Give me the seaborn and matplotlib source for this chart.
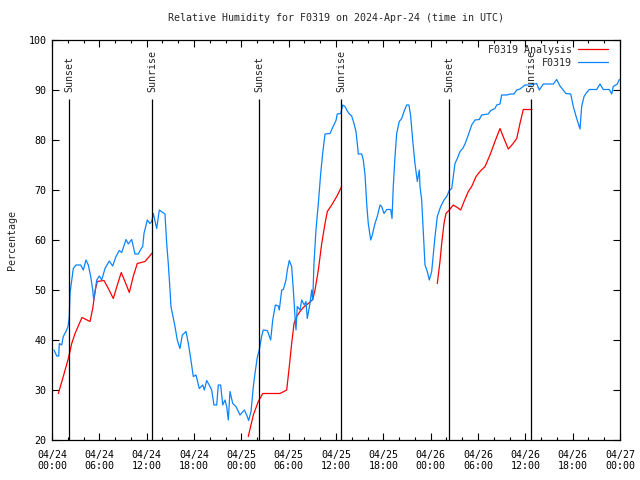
import pandas as pd
import matplotlib
matplotlib.use("Agg")
import matplotlib.pyplot as plt
import matplotlib.dates as mdates
import seaborn as sns

# hours after 2024-04-24 00:00 UTC, relative humidity (%)
obs_hours = [0.25, 0.60, 0.85, 0.93, 1.23, 1.43, 1.77, 2.03, 2.19, 2.28, 2.50, 2.70, 3.04, 3.64,
             3.97, 4.31, 4.60, 4.91, 5.16, 5.29, 5.45, 5.67, 6.00, 6.30, 6.72, 7.26, 7.69, 8.11,
             8.53, 8.84, 9.38, 9.67, 10.10, 10.52, 10.94, 11.24, 11.50, 11.66, 12.08, 12.42, 12.64,
             12.84, 13.27, 13.60, 14.32, 14.54, 14.74, 14.96, 15.08, 15.30, 15.59, 15.88, 16.22,
             16.52, 16.99, 17.28, 17.58, 17.91, 18.25, 18.67, 19.10, 19.31, 19.61, 20.03, 20.24,
             20.53, 20.88, 21.08, 21.38, 21.64, 21.93, 22.14, 22.35, 22.56, 22.91, 23.32, 23.83,
             24.38, 24.68, 24.93, 25.23, 25.52, 25.73, 26.02, 26.27, 26.57, 26.78, 27.29, 27.72,
             27.98, 28.31, 28.69, 28.81, 29.12, 29.32, 29.66, 29.83, 30.08, 30.38, 30.59, 30.80,
             30.93, 31.09, 31.44, 31.65, 31.98, 32.20, 32.36, 32.70, 32.92, 33.05, 33.21, 33.46,
             33.76, 34.06, 34.31, 34.61, 35.24, 35.66, 36.00, 36.16, 36.60, 36.85, 37.14, 37.36,
             37.69, 37.99, 38.28, 38.53, 38.70, 38.83, 39.26, 39.46, 39.68, 39.89, 40.09, 40.40,
             40.60, 40.94, 41.23, 41.58, 41.79, 42.08, 42.43, 42.93, 43.10, 43.26, 43.48, 43.69,
             44.02, 44.33, 44.62, 44.96, 45.25, 45.47, 45.72, 46.01, 46.31, 46.56, 46.65, 46.86,
             47.07, 47.28, 47.57, 47.83, 48.13, 48.55, 48.84, 49.27, 49.69, 50.03, 50.36, 50.67,
             50.87, 51.08, 51.38, 51.72, 52.06, 52.35, 52.77, 53.20, 53.62, 54.16, 54.47, 55.30,
             55.61, 56.15, 56.37, 56.79, 57.00, 57.64, 58.14, 58.56, 58.91, 59.32, 59.96, 60.59,
             61.44, 61.77, 62.28, 63.55, 63.97, 64.39, 65.15, 65.75, 66.08, 66.51, 66.93, 67.14,
             67.44, 67.78, 68.11, 69.05, 69.46, 69.88, 70.64, 70.95, 71.15, 71.66, 71.91]
obs_rh = [38.0, 36.8, 36.8, 39.3, 39.0, 40.7, 41.7, 42.7, 44.7, 49.3, 52.0, 54.3, 55.0, 55.0,
          54.0, 56.0, 55.0, 52.7, 50.0, 48.0, 49.7, 52.0, 52.8, 52.0, 54.3, 55.8, 54.8, 56.7,
          57.9, 57.5, 60.1, 59.2, 60.1, 57.2, 57.2, 58.1, 58.7, 61.3, 64.0, 63.3, 63.7,
          65.3, 62.3, 66.0, 65.2, 59.3, 55.3, 50.0, 46.7, 45.0, 42.7, 40.0, 38.3,
          41.0, 41.7, 39.3, 36.3, 32.7, 33.0, 30.3, 31.0, 30.0, 31.9, 30.7, 30.0,
          27.0, 27.0, 31.0, 31.0, 27.0, 28.0, 26.7, 24.0, 29.7, 27.3, 26.7, 25.0,
          26.0, 25.0, 23.9, 25.7, 30.7, 33.3, 36.5, 38.0, 40.7, 42.0, 41.9, 40.0,
          44.0, 47.0, 46.8, 46.0, 50.0, 50.1, 52.0, 54.0, 55.9, 54.7, 50.0, 44.7,
          42.0, 46.7, 46.0, 48.0, 47.0, 47.7, 44.3, 47.3, 50.0, 48.0, 55.3, 62.0,
          67.3, 73.3, 77.3, 81.2, 81.3, 82.8, 83.9, 85.2, 85.3, 87.0, 86.7, 86.0,
          85.2, 84.8, 83.3, 81.7, 79.3, 77.2, 77.2, 76.0, 73.0, 67.3, 63.3, 60.0,
          61.0, 63.3, 64.7, 67.0, 66.7, 65.3, 66.1, 66.1, 64.3, 70.7, 76.7, 81.3,
          83.7, 84.3, 85.7, 87.0, 87.0, 84.7, 80.0, 75.3, 71.7, 74.0, 70.7, 68.0,
          61.3, 55.0, 53.7, 52.0, 53.7, 60.7, 64.7, 66.7, 68.0, 68.7, 69.9, 70.3,
          72.7, 75.3, 76.3, 77.7, 78.3, 79.2, 81.0, 83.0, 84.0, 84.1, 85.0, 85.2,
          85.9, 86.3, 87.0, 87.2, 89.0, 89.0, 89.2, 89.2, 90.0, 90.2, 91.0, 91.0,
          91.3, 90.0, 91.2, 91.2, 92.1, 90.8, 89.3, 89.2, 86.7, 84.3, 82.2, 86.7,
          88.7, 89.5, 90.1, 90.1, 91.2, 90.1, 90.1, 89.2, 90.7, 91.2, 92.1]

# analysis comes in three separate runs
ana1_hours = [0.80, 1.43, 2.07, 2.50, 2.92, 3.80, 4.31, 4.82, 5.16, 5.49, 5.74, 6.59, 7.14, 7.77,
              8.28, 8.78, 9.25, 9.80, 10.31, 10.81, 11.79, 12.33, 12.76]
ana1_rh = [29.3, 32.7, 36.3, 39.3, 41.3, 44.5, 44.1, 43.7, 46.3, 50.0, 51.7, 51.9, 50.3, 48.3,
           51.0, 53.5, 51.7, 49.5, 52.8, 55.3, 55.7, 56.7, 57.5]
ana2_hours = [24.88, 25.52, 26.15, 26.71, 28.90, 29.75, 30.08, 30.38, 30.68, 31.02, 31.44, 31.85,
              32.49, 33.05, 33.34, 33.76, 34.19, 34.61, 34.90, 35.45, 36.09, 36.72]
ana2_rh = [20.7, 25.0, 27.7, 29.3, 29.3, 30.0, 34.7, 39.3, 43.3, 44.7, 45.7, 46.5,
           47.3, 48.1, 50.0, 54.0, 59.3, 63.3, 65.7, 67.0, 68.7, 70.7]
ana3_hours = [48.84, 49.18, 49.40, 49.69, 49.94, 50.36, 50.87, 51.38, 51.81, 52.23, 52.77, 53.20,
              53.75, 54.25, 54.89, 55.52, 56.15, 56.79, 57.29, 57.84, 58.40, 58.91, 59.32, 59.74,
              60.84]
ana3_rh = [51.3, 55.7, 59.3, 63.3, 65.3, 66.0, 67.0, 66.5, 66.0, 67.7, 69.7, 70.7,
           72.7, 73.7, 74.7, 77.0, 79.7, 82.3, 80.3, 78.2, 79.2, 80.3, 83.3, 86.1,
           86.1]

sun_hours = [2.19, 12.71, 26.28, 36.67, 50.36, 60.76]
sun_labels = ["Sunset", "Sunrise", "Sunset", "Sunrise", "Sunset", "Sunrise"]

start = pd.Timestamp("2024-04-24 00:00")

def to_time(h):
    return start + pd.to_timedelta(h, unit="h")

frames = []
for seg, (hrs, vals) in enumerate([(ana1_hours, ana1_rh), (ana2_hours, ana2_rh), (ana3_hours, ana3_rh)]):
    frames.append(pd.DataFrame({"time": to_time(hrs), "rh": vals,
                                "series": "F0319 Analysis", "seg": seg}))
frames.append(pd.DataFrame({"time": to_time(obs_hours), "rh": obs_rh,
                            "series": "F0319", "seg": 10}))
df = pd.concat(frames, ignore_index=True)

sns.set_style("ticks")
plt.rcParams["font.family"] = ["DejaVu Sans Mono"]
plt.rcParams["font.size"] = 7.2

fig = plt.figure(figsize=(6.4, 4.8), dpi=100)
ax = fig.add_axes([52 / 640, 40 / 480, 568 / 640, 400 / 480])

sns.lineplot(data=df, x="time", y="rh", hue="series", units="seg", estimator=None,
             palette={"F0319 Analysis": "#ff0000", "F0319": "#0a84ff"},
             hue_order=["F0319 Analysis", "F0319"], linewidth=0.9, ax=ax)

sun_t = to_time(sun_hours)
ax.vlines(sun_t, 20, 88.2, color="black", linewidth=0.9)
for t, lab in zip(sun_t, sun_labels):
    ax.text(t, 89.6, lab, rotation=90, ha="center", va="bottom", fontsize=7.2)

ax.set_xlim(to_time(0), to_time(72))
ax.set_ylim(20, 100)
ax.set_yticks(range(20, 101, 10))
ax.xaxis.set_major_locator(mdates.HourLocator(byhour=[0, 6, 12, 18]))
ax.xaxis.set_minor_locator(mdates.HourLocator(byhour=range(0, 24, 2)))
ax.xaxis.set_major_formatter(mdates.DateFormatter("%m/%d\n%H:%M"))

for s in ax.spines.values():
    s.set_visible(True)
    s.set_color("black")
    s.set_linewidth(0.9)
ax.tick_params(which="both", direction="in", top=True, right=True, color="black",
               width=0.8, labelsize=7.2, labelcolor="black")
ax.tick_params(which="major", length=5, pad=7)
ax.tick_params(which="minor", length=2.5)
ax.tick_params(axis="y", pad=4)

ax.set_xlabel("")
ax.set_ylabel("Percentage", fontsize=7.2, labelpad=8)
ax.set_title("Relative Humidity for F0319 on 2024-Apr-24 (time in UTC)", fontsize=7.2, pad=14)

ax.legend(loc="upper right", bbox_to_anchor=(0.979, 0.988), frameon=False, markerfirst=False,
          handlelength=3.0, handletextpad=0.6, labelspacing=0.3, borderaxespad=0, borderpad=0,
          fontsize=7.2)

fig.savefig("out.png", dpi=100)
